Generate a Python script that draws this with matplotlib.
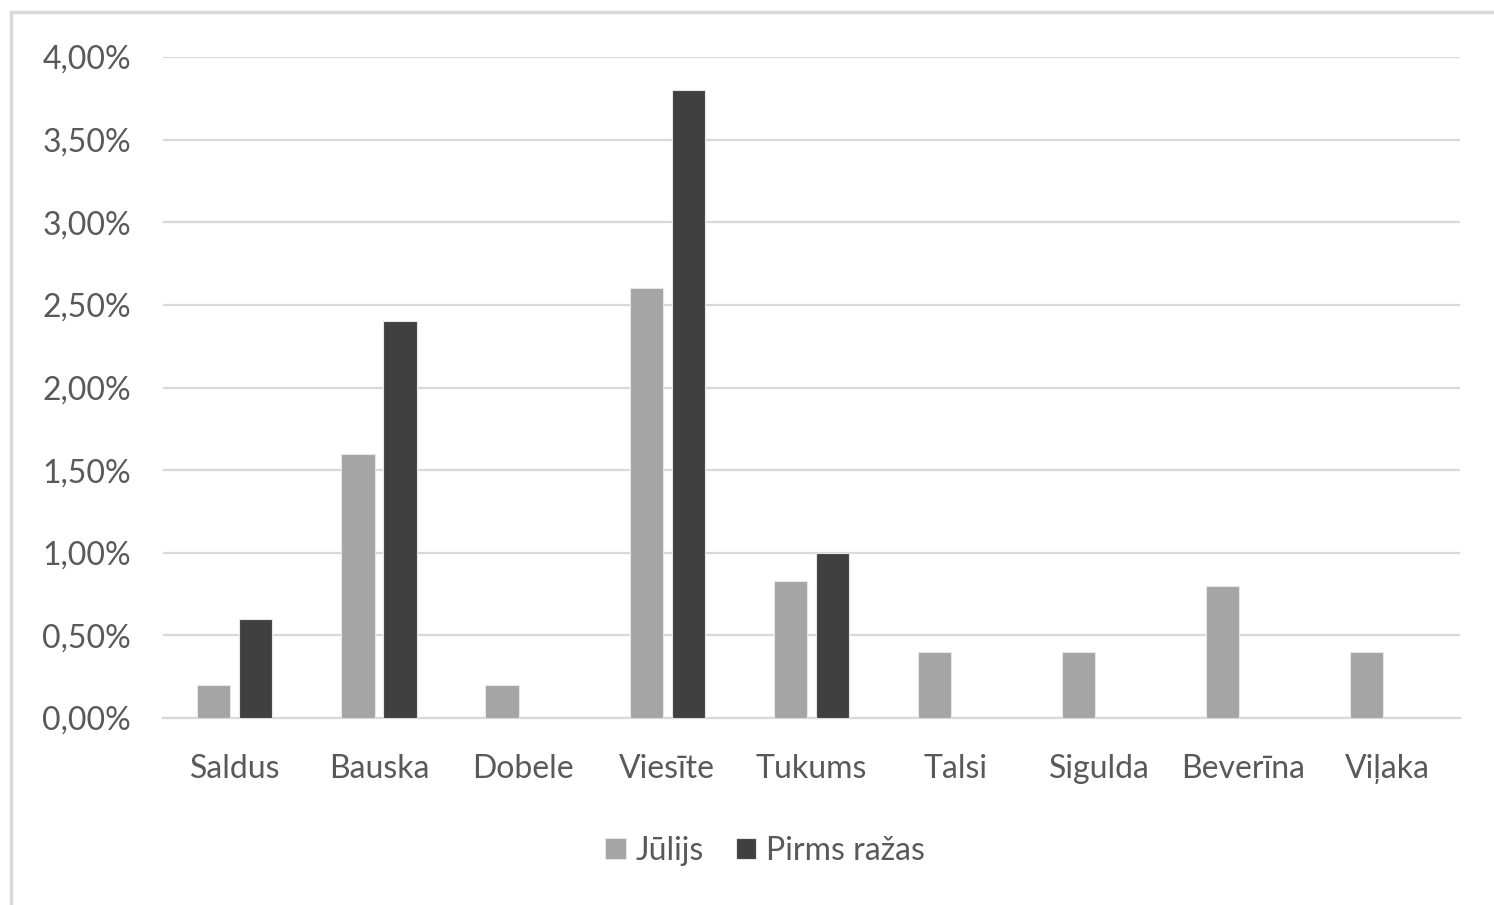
import matplotlib.pyplot as plt
import numpy as np
from matplotlib.patches import Rectangle
from matplotlib.ticker import FuncFormatter

regions = ["Saldus", "Bauska", "Dobele", "Viesīte", "Tukums",
           "Talsi", "Sigulda", "Beverīna", "Viļaka"]
julijs = [0.2, 1.6, 0.2, 2.6, 0.83, 0.4, 0.4, 0.8, 0.4]
pirms_razas = [0.6, 2.4, 0.0, 3.8, 1.0, 0.0, 0.0, 0.0, 0.0]
series_names = ["Jūlijs", "Pirms ražas"]

plt.rcParams["font.family"] = ["Lato", "DejaVu Sans"]
text_color = "#595959"
grid_color = "#d9d9d9"

fig = plt.figure(figsize=(14.94, 9.05), dpi=100)
ax = fig.add_axes([0.109, 0.2066, 0.868, 0.7304])

x = np.arange(len(regions))
w = 0.23
off = 0.146
ax.bar(x - off, julijs, w, color="#a5a5a5", edgecolor="#e6e6e6", linewidth=0.8,
       label=series_names[0], zorder=3)
ax.bar(x + off, pirms_razas, w, color="#404040", edgecolor="#e6e6e6", linewidth=0.8,
       label=series_names[1], zorder=3)

ax.set_xlim(-0.5, len(regions) - 0.5)
ax.set_ylim(0, 4.0)
ax.set_yticks(np.arange(0, 4.01, 0.5))
ax.yaxis.set_major_formatter(FuncFormatter(lambda v, p: f"{v:.2f}%".replace(".", ",")))
ax.set_xticks(x)
ax.set_xticklabels(regions)
ax.grid(axis="y", color=grid_color, linewidth=1.6, zorder=0)
for s in ["top", "right", "left"]:
    ax.spines[s].set_visible(False)
ax.spines["bottom"].set_color(grid_color)
ax.spines["bottom"].set_linewidth(1.6)
ax.tick_params(axis="both", length=0, labelsize=23, colors=text_color)
ax.tick_params(axis="y", pad=23)
ax.tick_params(axis="x", pad=26)

leg = fig.legend(loc="center", bbox_to_anchor=(0.512, 0.06), ncol=2, frameon=False,
                 fontsize=23, handlelength=0.65, handleheight=0.65, handletextpad=0.3,
                 columnspacing=1.0, labelcolor=text_color)

# outer frame
fig.patches.append(Rectangle((11 / 1494, -0.5), 2.0, 1.0 - 12 / 905 + 0.5,
                             transform=fig.transFigure, fill=False,
                             edgecolor=grid_color, linewidth=2.5))

fig.savefig("out.png", dpi=100)
